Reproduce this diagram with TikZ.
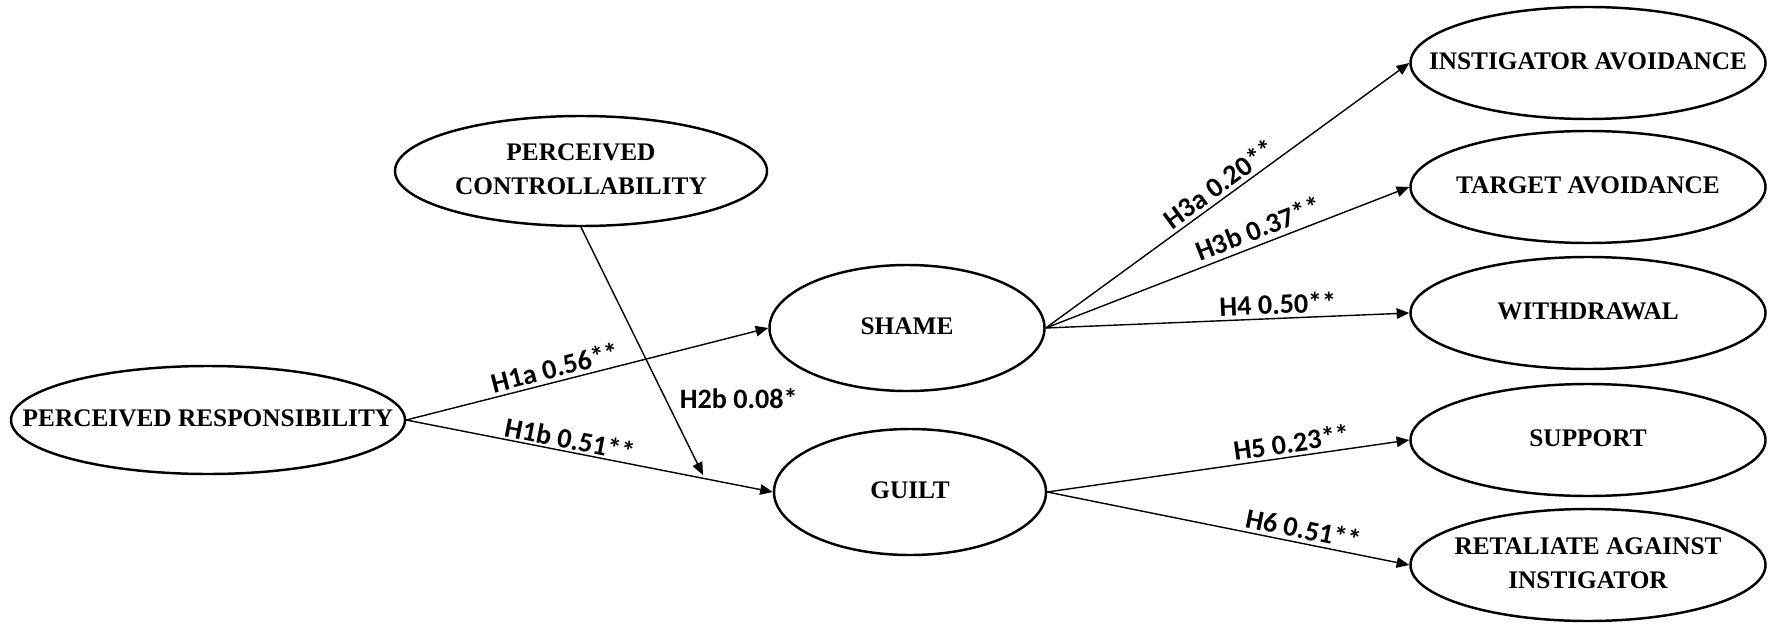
\documentclass[tikz,border=0pt]{standalone}
\usepackage{fontspec}
\setmainfont{Liberation Serif}
\newfontfamily\coeffamily{Carlito}
\usetikzlibrary{shapes.geometric,arrows.meta}

\newcommand{\ctext}[1]{\makebox[0pt]{\begin{tabular}{@{}c@{}}#1\end{tabular}}}

\tikzset{
  construct/.style={ellipse, draw, line width=0.7pt, inner sep=0pt,
    font=\fontsize{7.2}{9.6}\selectfont\bfseries},
  outcome/.style={construct, minimum width=3.55cm, minimum height=1.12cm},
  link/.style={line width=0.4pt, -{Triangle[length=3.6pt,width=3pt]}},
  coef/.style={font=\coeffamily\fontsize{8}{9}\selectfont\bfseries, inner sep=1pt},
}

\begin{document}
\begin{tikzpicture}
\useasboundingbox (0,0) rectangle (17.73,6.23);
% antecedents
\node[construct, minimum width=3.94cm, minimum height=1.08cm] (resp) at (2.08,2.03) {\ctext{PERCEIVED RESPONSIBILITY}};
\node[construct, minimum width=3.72cm, minimum height=1.10cm] (ctrl) at (5.81,4.52) {\ctext{PERCEIVED\\CONTROLLABILITY}};
% emotions
\node[construct, minimum width=2.75cm, minimum height=1.26cm] (shame) at (9.07,2.95) {\ctext{SHAME}};
\node[construct, minimum width=2.72cm, minimum height=1.26cm] (guilt) at (9.10,1.31) {\ctext{GUILT}};
% outcomes
\node[outcome] (instav) at (15.88,5.60) {\ctext{INSTIGATOR AVOIDANCE}};
\node[outcome] (targav) at (15.88,4.36) {\ctext{TARGET AVOIDANCE}};
\node[outcome] (withdr) at (15.88,3.10) {\ctext{WITHDRAWAL}};
\node[outcome] (supp) at (15.88,1.83) {\ctext{SUPPORT}};
\node[outcome] (retal) at (15.88,0.58) {\ctext{RETALIATE AGAINST\\INSTIGATOR}};
\coordinate (modpt) at (7.03,1.48);

% paths
\draw[link] (resp.east) -- node[coef, sloped, above, pos=0.42] {H1a 0.56**} (shame.west);
\draw[link] (resp.east) -- node[coef, sloped, above, pos=0.44, inner sep=0.5pt] {H1b 0.51**} (guilt.west);
\draw[link] (ctrl.south) -- node[coef, right=3pt, pos=0.69] {H2b 0.08*} (modpt);
\draw[link] (shame.east) -- node[coef, sloped, above, pos=0.5] {H3a 0.20**} (instav.west);
\draw[link] (shame.east) -- node[coef, sloped, above, pos=0.6, inner sep=1.5pt] {H3b 0.37**} (targav.west);
\draw[link] (shame.east) -- node[coef, sloped, above, pos=0.64] {H4 0.50**} (withdr.west);
\draw[link] (guilt.east) -- node[coef, sloped, above, pos=0.68] {H5 0.23**} (supp.west);
\draw[link] (guilt.east) -- node[coef, sloped, above, pos=0.7] {H6 0.51**} (retal.west);
\end{tikzpicture}
\end{document}
